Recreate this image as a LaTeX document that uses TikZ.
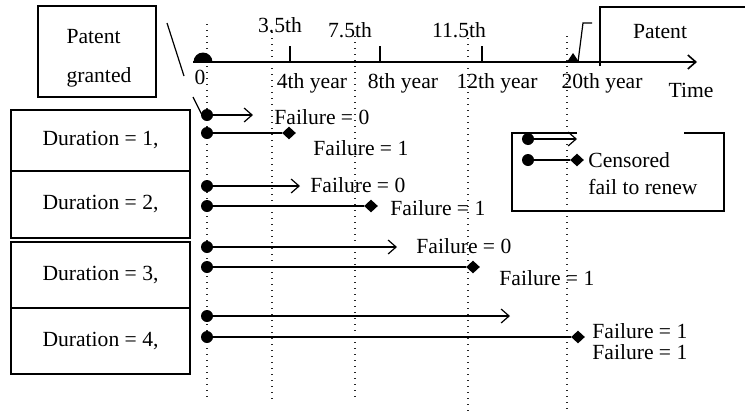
\documentclass[tikz,border=0pt]{standalone}
\usepackage{fontspec}
\setmainfont{Liberation Serif}
\usetikzlibrary{arrows.meta,shapes.geometric}
\newcommand{\figfont}{\fontsize{10.8}{13.5}\selectfont}
\tikzset{
  >={Straight Barb[length=4pt,width=7pt]},
  flow/.style={->,line width=0.6pt},
  failflow/.style={line width=0.6pt},
  axisline/.style={->,line width=0.8pt},
  guide/.style={line width=0.7pt,dash pattern=on 0.7pt off 2.3pt,draw=black!85},
  durbox/.style={draw,line width=0.6pt,minimum width=89.5pt,inner sep=0pt,font=\figfont},
  startdot/.style={circle,fill,inner sep=0pt,minimum size=6pt},
  faildot/.style={diamond,fill,inner sep=0pt,minimum width=7pt,minimum height=6.5pt},
  lbl/.style={font=\figfont,inner sep=0pt}
}

\begin{document}
\begin{tikzpicture}[x=0.5pt,y=-0.5pt]
  \useasboundingbox (0,0) rectangle (745,413);
  % dotted time guides
  \foreach \x/\ya/\yb in {207/24/400,272/32/400,355/36/400,468/38/413,567/36/413}
    \draw[guide] (\x,\ya) -- (\x,\yb);

  % time axis
  \coordinate (axstart) at (193,62);
  \coordinate (axend) at (697,62);
  \fill (193.5,62) arc[start angle=180,end angle=360,radius=9.5] -- cycle;
  \draw[axisline] (axstart) -- (axend);
  \foreach \x in {290,380,482}
    \draw[line width=0.6pt] (\x,46) -- (\x,62);
  \fill (567,62) -- (579,62) -- (573,53) -- cycle;
  \draw[line width=0.6pt] (578,62) -- (583,23) -- (592,23);
  \node[lbl] (zero) at (200,77) {0};
  \node[lbl] (m35) at (280,25) {3.5th};
  \node[lbl] (m75) at (350,30) {7.5th};
  \node[lbl] (m115) at (459,30) {11.5th};
  \node[lbl] (y4) at (312,83) {4th year};
  \node[lbl] (y8) at (403,83) {8th year};
  \node[lbl] (y12) at (497,83) {12th year};
  \node[lbl] (y20) at (602,83) {20th year};
  \node[lbl] (time) at (691,90) {Time};

  % patent boxes
  \node[draw,line width=0.6pt,minimum width=59pt,minimum height=45.5pt] (granted) at (97,51.5) {};
  \node[lbl,align=left] (grantedtxt) at (99,58.5) {Patent\\[6pt]granted};
  \draw[line width=0.6pt] (167,23) -- (184,76);
  \draw[line width=0.6pt] (193,97) -- (202,115);
  \draw[line width=0.6pt] (600,66) -- (600,7) -- (745,7);
  \node[lbl] (patent) at (660,32) {Patent};

  % durations
  \node[durbox,minimum height=30.5pt] (dur1) at (100.5,140.5) {Duration = 1,};
  \node[durbox,minimum height=33.5pt] (dur2) at (100.5,204.5) {Duration = 2,};
  \node[durbox,minimum height=33pt] (dur3) at (100.5,275) {Duration = 3,};
  \node[durbox,minimum height=33pt] (dur4) at (100.5,341) {Duration = 4,};

  % duration 1
  \node[startdot] (s1a) at (207,115) {};
  \coordinate (e1a) at (253,115);
  \draw[flow] (s1a) -- (e1a);
  \node[lbl,anchor=west] (l1a) at (274,117) {Failure = 0};
  \node[startdot] (s1b) at (207,133) {};
  \node[faildot] (f1b) at (289,133) {};
  \draw[failflow] (s1b) -- (f1b);
  \node[lbl,anchor=west] (l1b) at (313,148) {Failure = 1};

  % duration 2
  \node[startdot] (s2a) at (207,186) {};
  \coordinate (e2a) at (300,186);
  \draw[flow] (s2a) -- (e2a);
  \node[lbl,anchor=west] (l2a) at (310,185) {Failure = 0};
  \node[startdot] (s2b) at (207,206) {};
  \node[faildot] (f2b) at (371,206) {};
  \draw[failflow] (s2b) -- (f2b);
  \node[lbl,anchor=west] (l2b) at (390,208) {Failure = 1};

  % duration 3
  \node[startdot] (s3a) at (207,247) {};
  \coordinate (e3a) at (397,247);
  \draw[flow] (s3a) -- (e3a);
  \node[lbl,anchor=west] (l3a) at (416,246) {Failure = 0};
  \node[startdot] (s3b) at (207,267) {};
  \node[faildot] (f3b) at (473,267) {};
  \draw[failflow] (s3b) -- (f3b);
  \node[lbl,anchor=west] (l3b) at (499,278) {Failure = 1};

  % duration 4
  \node[startdot] (s4a) at (207,316) {};
  \coordinate (e4a) at (510,316);
  \draw[flow] (s4a) -- (e4a);
  \node[startdot] (s4b) at (207,337) {};
  \node[faildot] (f4b) at (578,337) {};
  \draw[failflow] (s4b) -- (f4b);
  \node[lbl,anchor=west] (l4a) at (592,331) {Failure = 1};
  \node[lbl,anchor=west] (l4b) at (592,352) {Failure = 1};

  % legend
  \draw[line width=0.6pt] (577,133) -- (512,133) -- (512,211) -- (724,211) -- (724,133) -- (684,133);
  \node[startdot] (legs) at (528,139) {};
  \coordinate (lege) at (577,139);
  \draw[flow] (legs) -- (lege);
  \node[startdot] (legfs) at (528,160) {};
  \node[faildot] (legf) at (577,160) {};
  \draw[failflow] (legfs) -- (legf);
  \node[lbl,anchor=west,align=left] (legtxt) at (588,173.5) {Censored\\fail to renew};
\end{tikzpicture}
\end{document}
